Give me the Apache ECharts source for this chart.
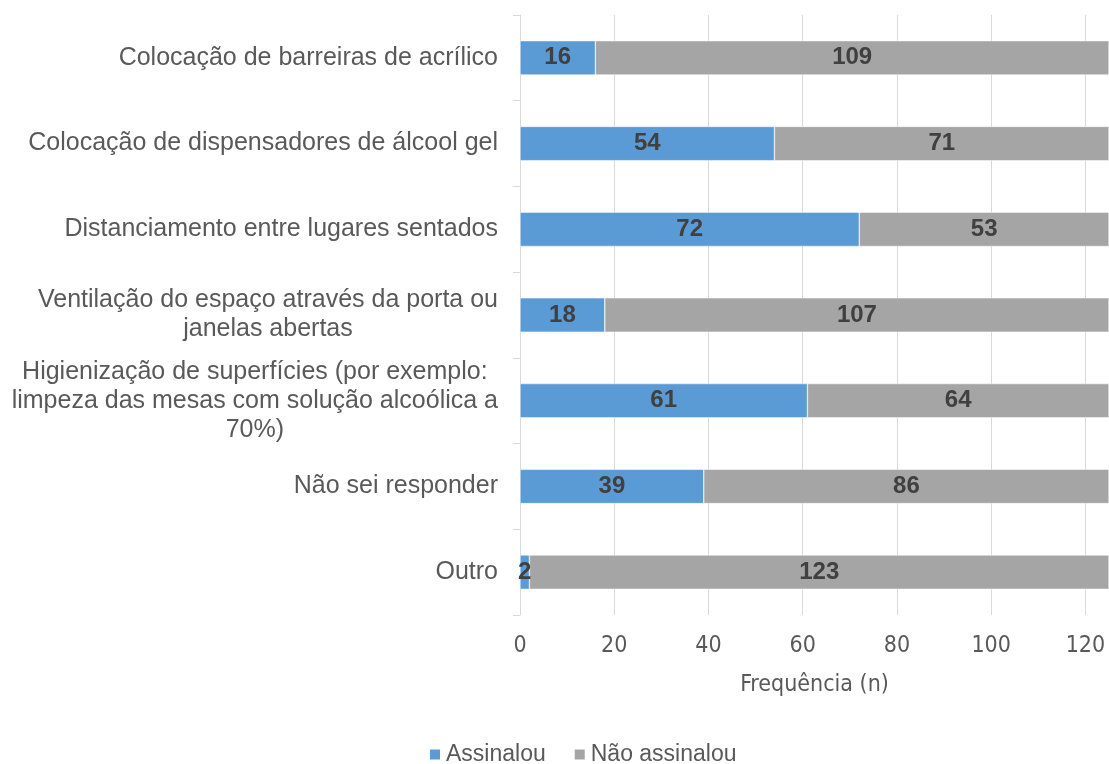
<!DOCTYPE html>
<html>
<head>
<meta charset="utf-8">
<script src="https://cdn.jsdelivr.net/npm/echarts@6/dist/echarts.min.js"></script>
<style>
  html, body { margin: 0; padding: 0; background: #fff; }
  #chart { width: 1109px; height: 764px; }
</style>
</head>
<body>
<div id="chart"></div>
<script>
// categorias (de cima para baixo)
var categories = [
  'Colocação de barreiras de acrílico',
  'Colocação de dispensadores de álcool gel',
  'Distanciamento entre lugares sentados',
  'Ventilação do espaço através da porta ou\njanelas abertas',
  'Higienização de superfícies (por exemplo:\nlimpeza das mesas com solução alcoólica a\n70%)',
  'Não sei responder',
  'Outro'
];
var assinalou = [16, 54, 72, 18, 61, 39, 2];
var naoAssinalou = [109, 71, 53, 107, 64, 86, 123];
var xTicks = [0, 20, 40, 60, 80, 100, 120];

var myChart = echarts.init(document.getElementById('chart'));

var labelFont = "'Liberation Sans', Arial, sans-serif";
var axisFont = "'Liberation Sans Narrow', 'DejaVu Sans Condensed', sans-serif";

myChart.setOption({
  backgroundColor: '#ffffff',
  animation: false,
  grid: {
    left: 520,
    right: -3,
    top: 15,
    bottom: 149
  },
  legend: {
    left: 423,
    top: 738,
    itemWidth: 12,
    itemHeight: 12,
    itemGap: 27,
    icon: 'rect',
    textStyle: {
      fontFamily: labelFont,
      fontSize: 23,
      color: '#595959'
    },
    data: ['Assinalou', 'Não assinalou']
  },
  xAxis: {
    type: 'value',
    min: xTicks[0],
    max: 125,
    interval: 20,
    name: 'Frequência (n)',
    nameLocation: 'middle',
    nameGap: 59,
    nameTextStyle: {
      fontFamily: axisFont,
      fontSize: 23,
      color: '#595959'
    },
    axisLine: { show: false },
    axisTick: { show: false },
    axisLabel: {
      margin: 20,
      showMaxLabel: false,
      fontFamily: axisFont,
      fontSize: 23,
      color: '#595959',
      formatter: function (v) {
        return xTicks.indexOf(v) >= 0 ? String(v) : '';
      }
    },
    splitLine: {
      show: true,
      lineStyle: { color: '#d9d9d9', width: 1 }
    }
  },
  yAxis: {
    type: 'category',
    inverse: true,
    data: categories,
    axisLine: {
      show: true,
      lineStyle: { color: '#d9d9d9', width: 1 }
    },
    axisTick: {
      show: true,
      length: 7,
      lineStyle: { color: '#d9d9d9' }
    },
    axisLabel: {
      margin: 22,
      color: '#595959',
      fontFamily: labelFont,
      fontSize: 25,
      lineHeight: 29,
      formatter: function (value) {
        return value.split('\n').map(function (s) { return '{c|' + s + '}'; }).join('\n');
      },
      rich: {
        c: {
          align: 'center',
          color: '#595959',
          fontFamily: labelFont,
          fontSize: 25,
          lineHeight: 29
        }
      }
    }
  },
  series: [
    {
      name: 'Assinalou',
      type: 'bar',
      stack: 'total',
      data: assinalou,
      barCategoryGap: '60%',
      itemStyle: { color: '#5b9bd5', borderColor: '#ffffff', borderWidth: 0.5 },
      label: {
        show: true,
        position: 'inside',
        fontFamily: labelFont,
        fontSize: 24,
        fontWeight: 'bold',
        color: '#404040'
      }
    },
    {
      name: 'Não assinalou',
      type: 'bar',
      stack: 'total',
      data: naoAssinalou,
      barCategoryGap: '60%',
      itemStyle: { color: '#a5a5a5', borderColor: '#ffffff', borderWidth: 0.5 },
      label: {
        show: true,
        position: 'inside',
        fontFamily: labelFont,
        fontSize: 24,
        fontWeight: 'bold',
        color: '#404040'
      }
    }
  ]
});
</script>
</body>
</html>
